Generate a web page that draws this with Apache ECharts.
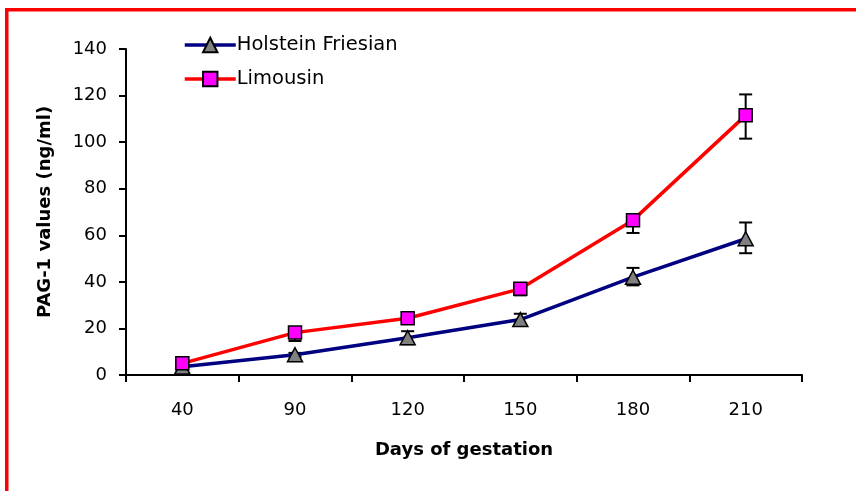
<!DOCTYPE html>
<html><head><meta charset="utf-8">
<script src="https://cdn.jsdelivr.net/npm/echarts@6/dist/echarts.min.js"></script>
<style>html,body{margin:0;padding:0;background:#fff}#c{width:857px;height:491px}</style>
</head><body><div id="c"></div>
<script>
const categories = ['40','90','120','150','180','210'];
const holstein = [3.5, 8.7, 16, 23.8, 42, 58.5];
const holsteinErrLow = [0.5, 0.8, 2.8, 2.5, 3.5, 6.2];
const holsteinErrHigh = [0.5, 0.8, 2.8, 2.5, 4, 7];
const limousin = [5, 18.2, 24.4, 37, 66.5, 111.5];
const limousinErrLow = [0.8, 3.6, 0.8, 2.8, 5.5, 10];
const limousinErrHigh = [0.8, 0.8, 0.8, 0.8, 0.8, 9];
const yTicks = {min: 0, max: 140, interval: 20};

function errData(vals, lo, hi) {
  return vals.map((v, i) => [i, v - lo[i], v + hi[i]]);
}
function errRender(params, api) {
  const x = api.value(0);
  const pLo = api.coord([x, api.value(1)]);
  const pHi = api.coord([x, api.value(2)]);
  const cw = 6.5;
  const st = {stroke: '#000', lineWidth: 2};
  return {type: 'group', children: [
    {type: 'line', shape: {x1: pLo[0], y1: pLo[1], x2: pHi[0], y2: pHi[1]}, style: st},
    {type: 'line', shape: {x1: pLo[0]-cw, y1: pLo[1], x2: pLo[0]+cw, y2: pLo[1]}, style: st},
    {type: 'line', shape: {x1: pHi[0]-cw, y1: pHi[1], x2: pHi[0]+cw, y2: pHi[1]}, style: st}
  ]};
}

const chart = echarts.init(document.getElementById('c'), null, {renderer: 'canvas'});
const font = '"DejaVu Sans", "Liberation Sans", Arial, sans-serif';
chart.setOption({
  animation: false,
  backgroundColor: '#fff',
  textStyle: {fontFamily: font},
  grid: {left: 126, top: 49, right: 55, bottom: 116},
  legend: {
    left: 178, top: 30, orient: 'vertical', itemGap: 14,
    itemWidth: 51, itemHeight: 18,
    lineStyle: {width: 3.5},
    textStyle: {fontFamily: font, fontSize: 19.5, color: '#000', padding: [0,0,0,-4]},
    data: ['Holstein Friesian', 'Limousin']
  },
  xAxis: {
    type: 'category', data: categories, boundaryGap: true,
    name: 'Days of gestation', nameLocation: 'middle', nameGap: 66,
    nameTextStyle: {fontFamily: font, fontSize: 18, fontWeight: 'bold', color: '#000'},
    axisLine: {lineStyle: {color: '#000', width: 2}},
    axisTick: {show: true, alignWithLabel: false, length: 7, lineStyle: {color: '#000', width: 2}},
    axisLabel: {fontFamily: font, fontSize: 18, color: '#000', margin: 26},
    splitLine: {show: false}
  },
  yAxis: {
    type: 'value', min: yTicks.min, max: yTicks.max, interval: yTicks.interval,
    name: 'PAG-1 values (ng/ml)', nameLocation: 'middle', nameGap: 72, nameRotate: 90,
    nameTextStyle: {fontFamily: font, fontSize: 18, fontWeight: 'bold', color: '#000'},
    axisLine: {show: true, lineStyle: {color: '#000', width: 2}},
    axisTick: {show: true, length: 7, lineStyle: {color: '#000', width: 2}},
    axisLabel: {fontFamily: font, fontSize: 18, color: '#000', margin: 19},
    splitLine: {show: false}
  },
  graphic: [
    {type: 'line', shape: {x1: 5, y1: 9.75, x2: 856, y2: 9.75}, style: {stroke: '#ff0000', lineWidth: 3.5}, z: 100},
    {type: 'line', shape: {x1: 6.75, y1: 8, x2: 6.75, y2: 491}, style: {stroke: '#ff0000', lineWidth: 3.5}, z: 100}
  ],
  series: [
    {type: 'custom', name: 'errH', renderItem: errRender, data: errData(holstein, holsteinErrLow, holsteinErrHigh), z: 1, encode: {x: 0, y: [1,2]}, silent: true},
    {type: 'custom', name: 'errL', renderItem: errRender, data: errData(limousin, limousinErrLow, limousinErrHigh), z: 1, encode: {x: 0, y: [1,2]}, silent: true},
    {
      type: 'line', name: 'Holstein Friesian', data: holstein, z: 3,
      symbol: 'triangle', symbolSize: [15, 14], showAllSymbol: true,
      lineStyle: {color: '#000080', width: 3.5},
      itemStyle: {color: '#808080', borderColor: '#000', borderWidth: 1.5}
    },
    {
      type: 'line', name: 'Limousin', data: limousin, z: 4,
      symbol: 'rect', symbolSize: 13, showAllSymbol: true,
      lineStyle: {color: '#ff0000', width: 3.5},
      itemStyle: {color: '#ff00ff', borderColor: '#000', borderWidth: 1.5}
    }
  ]
});
</script>
</body></html>
